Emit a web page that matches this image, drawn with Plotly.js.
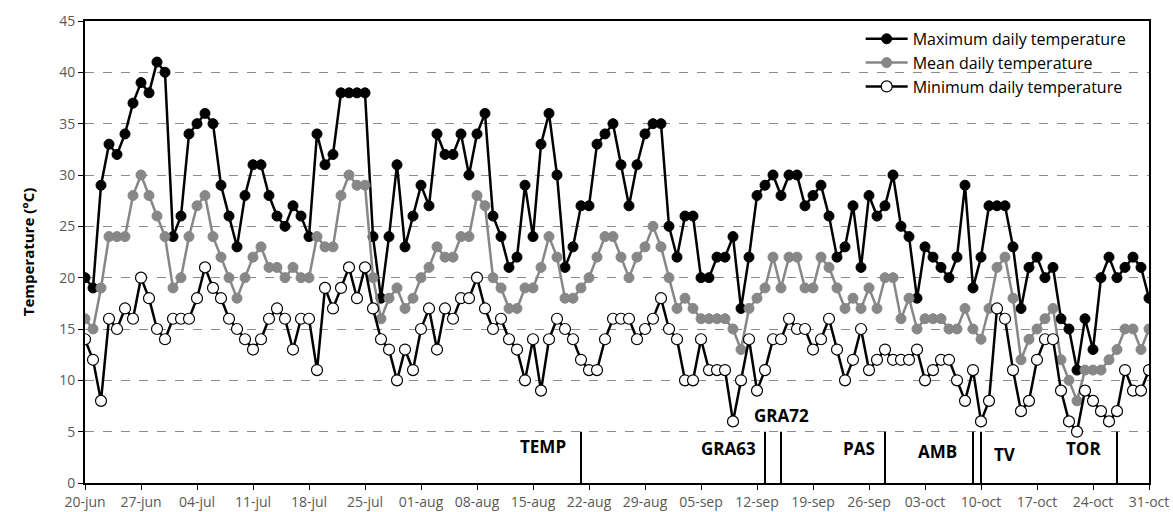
<!DOCTYPE html>
<html>
<head>
<meta charset="utf-8">
<script src="https://cdn.plot.ly/plotly-3.0.1.min.js"></script>
<style>
  html, body { margin: 0; padding: 0; background: #ffffff; }
  #chart { width: 1173px; height: 512px; }
</style>
</head>
<body>
<div id="chart"></div>
<script>
// ---- data (daily values from 20-jun to 31-oct) ----
const startDay = '2019-06-20';
const maxTemp = [20,19,29,33,32,34,37,39,38,41,40,24,26,34,35,36,35,29,26,23,
  28,31,31,28,26,25,27,26,24,34,31,32,38,38,38,38,24,18,24,31,
  23,26,29,27,34,32,32,34,30,34,36,26,24,21,22,29,24,33,36,30,
  21,23,27,27,33,34,35,31,27,31,34,35,35,25,22,26,26,20,20,22,
  22,24,17,22,28,29,30,28,30,30,27,28,29,26,22,23,27,21,28,26,
  27,30,25,24,18,23,22,21,20,22,29,19,22,27,27,27,23,17,21,22,
  20,21,16,15,11,16,13,20,22,20,21,22,21,18];
const meanTemp = [16,15,19,24,24,24,28,30,28,26,24,19,20,24,27,28,24,22,20,18,
  20,22,23,21,21,20,21,20,20,24,23,23,28,30,29,29,20,16,18,19,
  17,18,20,21,23,22,22,24,24,28,27,20,19,17,17,19,19,21,24,22,
  18,18,19,20,22,24,24,22,20,22,23,25,23,20,17,18,17,16,16,16,
  16,15,13,17,18,19,22,19,22,22,19,19,22,21,19,17,18,17,19,17,
  20,20,16,18,15,16,16,16,15,15,17,15,14,17,21,22,18,12,14,15,
  16,17,12,10,8,11,11,11,12,13,15,15,13,15];
const minTemp = [14,12,8,16,15,17,16,20,18,15,14,16,16,16,18,21,19,18,16,15,
  14,13,14,16,17,16,13,16,16,11,19,17,19,21,18,21,17,14,13,10,
  13,11,15,17,13,17,16,18,18,20,17,15,16,14,13,10,14,9,14,16,
  15,14,12,11,11,14,16,16,16,14,15,16,18,15,14,10,10,14,11,11,
  11,6,10,14,9,11,14,14,16,15,15,13,14,16,13,10,12,15,11,12,
  13,12,12,12,13,10,11,12,12,10,8,11,6,8,17,16,11,7,8,12,
  14,14,9,6,5,9,8,7,6,7,11,9,9,11];

const tickLabels = ['20-jun','27-jun','04-jul','11-jul','18-jul','25-jul','01-aug','08-aug',
  '15-aug','22-aug','29-aug','05-sep','12-sep','19-sep','26-sep','03-oct','10-oct','17-oct',
  '24-oct','31-oct'];
const tickDates = ['2019-06-20','2019-06-27','2019-07-04','2019-07-11','2019-07-18','2019-07-25',
  '2019-08-01','2019-08-08','2019-08-15','2019-08-22','2019-08-29','2019-09-05','2019-09-12',
  '2019-09-19','2019-09-26','2019-10-03','2019-10-10','2019-10-17','2019-10-24','2019-10-31'];

const phaseNames = ['TEMP','GRA63','GRA72','PAS','AMB','TV','TOR'];
const phaseLabelDates = ['2019-08-16 06:00','2019-09-08 10:00','2019-09-15 00:00','2019-09-24 18:00',
  '2019-10-04 12:00','2019-10-13 00:00','2019-10-22 18:00'];
const phaseLabelLevels = [3.6,3.4,6.6,3.4,3.1,2.8,3.4];
const phaseBoundaries = ['2019-08-21','2019-09-13','2019-09-15','2019-09-28','2019-10-09','2019-10-10','2019-10-27'];

// ---- build dates for the daily series ----
function dayDate(i) {
  const p = startDay.split('-').map(Number);
  const d = new Date(Date.UTC(p[0], p[1] - 1, p[2] + i));
  return d.toISOString().slice(0, 10);
}
const dates = maxTemp.map((_, i) => dayDate(i));

const FONT = 'Open Sans, Noto Sans, sans-serif';

const traces = [
  {
    x: dates, y: maxTemp, type: 'scatter', mode: 'lines+markers',
    name: 'Maximum daily temperature',
    line: { color: '#000000', width: 2.5 },
    marker: { color: '#000000', size: 10, line: { color: '#000000', width: 1 } }
  },
  {
    x: dates, y: meanTemp, type: 'scatter', mode: 'lines+markers',
    name: 'Mean daily temperature',
    line: { color: '#878787', width: 2.5 },
    marker: { color: '#878787', size: 10, line: { color: '#878787', width: 1 } }
  },
  {
    x: dates, y: minTemp, type: 'scatter', mode: 'lines+markers',
    name: 'Minimum daily temperature',
    line: { color: '#000000', width: 2.5 },
    marker: { color: '#ffffff', size: 11, line: { color: '#000000', width: 1.2 } }
  }
];

const shapes = phaseBoundaries.map(d => ({
  type: 'line', xref: 'x', yref: 'y', x0: d, x1: d, y0: 0, y1: 5,
  line: { color: '#000000', width: 2 }
}));

const annotations = phaseNames.map((n, i) => ({
  x: phaseLabelDates[i], y: phaseLabelLevels[i], xref: 'x', yref: 'y',
  text: '<b>' + n + '</b>', showarrow: false,
  font: { family: FONT, size: 17, color: '#000000' },
  xanchor: 'center', yanchor: 'middle'
}));

const layout = {
  width: 1173, height: 512,
  margin: { l: 85, r: 24, t: 21, b: 29 },
  paper_bgcolor: '#ffffff', plot_bgcolor: '#ffffff',
  font: { family: FONT, size: 14, color: '#595959' },
  showlegend: true,
  legend: {
    x: 0.729, y: 0.998, xanchor: 'left', yanchor: 'top',
    bgcolor: 'rgba(255,255,255,0)', borderwidth: 0,
    font: { family: FONT, size: 16, color: '#000000' },
    itemwidth: 42,
    tracegroupgap: 0
  },
  xaxis: {
    type: 'date',
    range: [dates[0], dates[dates.length - 1]],
    tickvals: tickDates, ticktext: tickLabels,
    ticks: 'outside', ticklen: 5, tickcolor: '#000000', tickwidth: 1,
    showgrid: false, zeroline: false,
    showline: true, linecolor: '#000000', linewidth: 2, mirror: true,
    tickfont: { family: FONT, size: 14, color: '#595959' }
  },
  yaxis: {
    range: [0, 45], dtick: 5, tick0: 0,
    ticks: 'outside', ticklen: 5, tickcolor: '#000000', tickwidth: 1,
    showgrid: true, gridcolor: '#8a8a8a', gridwidth: 1, griddash: 'dash',
    zeroline: false,
    showline: true, linecolor: '#000000', linewidth: 2, mirror: true,
    tickfont: { family: FONT, size: 14, color: '#595959' },
    title: { text: '<b>Temperature (°C)</b>', font: { family: FONT, size: 15, color: '#000000' }, standoff: 21 }
  },
  shapes: shapes,
  annotations: annotations
};

Plotly.newPlot('chart', traces, layout, { displayModeBar: false, staticPlot: true });
</script>
</body>
</html>
